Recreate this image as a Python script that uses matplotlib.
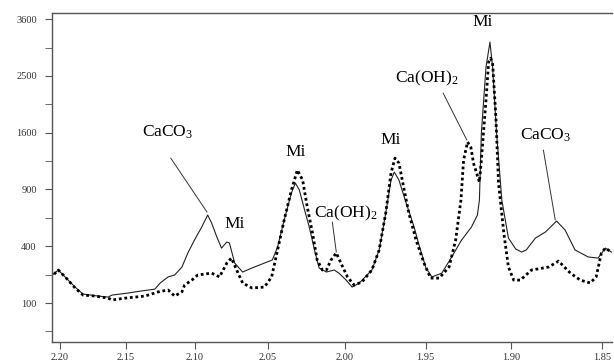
"""XRD pattern of two samples (solid vs dotted), d-spacing axis, sqrt intensity axis."""
import numpy as np
import matplotlib
matplotlib.use("Agg")
import matplotlib.pyplot as plt

plt.rcParams["font.family"] = "Liberation Serif"
plt.rcParams["mathtext.fontset"] = "custom"
plt.rcParams["mathtext.rm"] = "Liberation Serif"
plt.rcParams["mathtext.it"] = "Liberation Serif:italic"

WAVELENGTH = 1.5406  # Cu K-alpha, the scan is linear in 2-theta

# dotted pattern (2-theta in degrees, counts)
dot_2t = [40.84, 40.965, 41.07, 41.22, 41.34, 41.52, 41.72, 41.78, 41.98, 42.28, 42.48, 42.63,
          42.73, 42.84, 42.88, 42.99, 43.08, 43.29, 43.41, 43.52, 43.59, 43.67, 43.76, 43.90,
          44.09, 44.20, 44.29, 44.39, 44.50, 44.59, 44.67, 44.74, 44.82, 44.89, 44.97, 45.03,
          45.10, 45.18, 45.25, 45.35, 45.45, 45.57, 45.72, 45.83, 45.93, 46.01, 46.07, 46.13,
          46.21, 46.28, 46.39, 46.51, 46.61, 46.74, 46.89, 46.99, 47.07, 47.11, 47.17, 47.22,
          47.26, 47.35, 47.38, 47.45, 47.49, 47.52, 47.55, 47.60, 47.64, 47.72, 47.79, 47.87,
          47.97, 48.14, 48.40, 48.55, 48.73, 48.88, 49.03, 49.12, 49.20, 49.26, 49.35]
dot_cnt = [207, 250, 213, 160, 130, 126, 118, 111, 118, 126, 143, 151,
           126, 143, 173, 197, 223, 233, 213, 290, 321, 250, 183, 160,
           164, 213, 374, 606, 894, 1117, 1002, 724, 498, 309, 250, 250,
           309, 354, 290, 213, 173, 188, 250, 374, 668, 1082, 1262, 1201,
           894, 668, 445, 290, 207, 207, 267, 445, 791, 1238, 1471, 1403,
           1201, 980, 1238, 2092, 2749, 2823, 2730, 1828, 969, 498, 267, 197,
           197, 250, 267, 302, 233, 197, 183, 213, 354, 387, 360]

# solid pattern
sol_2t = [40.84, 40.965, 41.22, 41.34, 41.57, 41.72, 41.78, 42.02, 42.13, 42.43, 42.51, 42.63,
          42.73, 42.84, 42.93, 43.03, 43.14, 43.23, 43.29, 43.37, 43.44, 43.52, 43.56, 43.64,
          43.76, 43.90, 44.09, 44.21, 44.29, 44.39, 44.50, 44.56, 44.62, 44.70, 44.77, 44.85,
          44.92, 45.03, 45.15, 45.22, 45.33, 45.42, 45.53, 45.72, 45.83, 45.93, 46.01, 46.06,
          46.13, 46.24, 46.36, 46.43, 46.54, 46.63, 46.78, 46.93, 47.08, 47.23, 47.32, 47.35,
          47.38, 47.45, 47.51, 47.55, 47.61, 47.69, 47.79, 47.90, 47.99, 48.06, 48.20, 48.35,
          48.52, 48.65, 48.80, 49.00, 49.15, 49.26, 49.35]
sol_cnt = [213, 250, 164, 134, 126, 122, 130, 138, 143, 155, 183, 213,
           223, 267, 354, 445, 547, 650, 580, 467, 387, 430, 423, 290,
           239, 261, 290, 309, 394, 606, 863, 969, 894, 695, 547, 374,
           261, 239, 250, 233, 197, 164, 183, 250, 374, 668, 1002, 1093,
           1002, 762, 547, 416, 261, 213, 233, 328, 445, 547, 650, 791,
           1600, 2657, 3131, 2657, 1600, 791, 460, 381, 360, 374, 460, 506,
           597, 522, 374, 328, 321, 387, 360]

d_ticks = [2.20, 2.15, 2.10, 2.05, 2.00, 1.95, 1.90, 1.85]
y_ticks = [100, 400, 900, 1600, 2500, 3600]
y_minor = [25, 225, 625, 1225, 2025, 3025]

# (label, text position, line start, line end) in (2-theta, counts)
labels = [
    ("CaCO$_{\\mathrm{3}}$", (42.62, 1600), (42.67, 1262), (43.22, 677)),
    ("Mi", (43.64, 572), None, None),
    ("Mi", (44.56, 1338), None, None),
    ("Ca(OH)$_{\\mathrm{2}}$", (45.33, 668), (45.12, 589), (45.18, 360)),
    ("Mi", (46.00, 1498), None, None),
    ("Ca(OH)$_{\\mathrm{2}}$", (46.55, 2461), (46.80, 2206), (47.16, 1498)),
    ("Mi", (47.40, 3537), None, None),
    ("CaCO$_{\\mathrm{3}}$", (48.35, 1567), (48.32, 1365), (48.50, 606)),
]

fig = plt.figure(figsize=(6.14, 3.61), dpi=100)
ax = fig.add_axes([0.0847, 0.0526, 0.912, 0.911])

ax.plot(sol_2t, sol_cnt, color="#222222", lw=0.8, ls="-")
ax.plot(dot_2t, dot_cnt, color="black", lw=2.0, ls=(0, (1, 1)))

ax.set_yscale("function", functions=(lambda v: np.sqrt(np.clip(v, 0, None)), np.square))
ax.set_ylim(9.8, 3728)
ax.set_yticks(y_ticks)
ax.set_yticks(y_minor, minor=True)
ax.set_yticklabels([str(v) for v in y_ticks])

tt = np.degrees(2 * np.arcsin(WAVELENGTH / (2 * np.array(d_ticks))))
ax.set_xticks(tt)
ax.set_xticklabels([f"{d:.2f}" for d in d_ticks])
ax.set_xlim(40.87, 49.36)

for s in ["left", "top", "bottom"]:
    ax.spines[s].set_color("#555555")
    ax.spines[s].set_linewidth(1.0)
ax.spines["right"].set_visible(False)
ax.tick_params(axis="both", which="both", direction="out", color="#555555",
               labelcolor="#333333", labelsize=7.5, pad=6)
ax.tick_params(axis="y", which="both", length=5)
ax.tick_params(axis="x", which="major", length=5, pad=3)

for text, pos, p0, p1 in labels:
    ax.text(pos[0], pos[1], text, ha="center", va="center", fontsize=12.5)
    if p0 is not None:
        ax.annotate("", xy=p1, xytext=p0,
                    arrowprops=dict(arrowstyle="-", color="#333333", lw=0.7,
                                    shrinkA=0, shrinkB=0))

fig.savefig("out.png", dpi=100)
